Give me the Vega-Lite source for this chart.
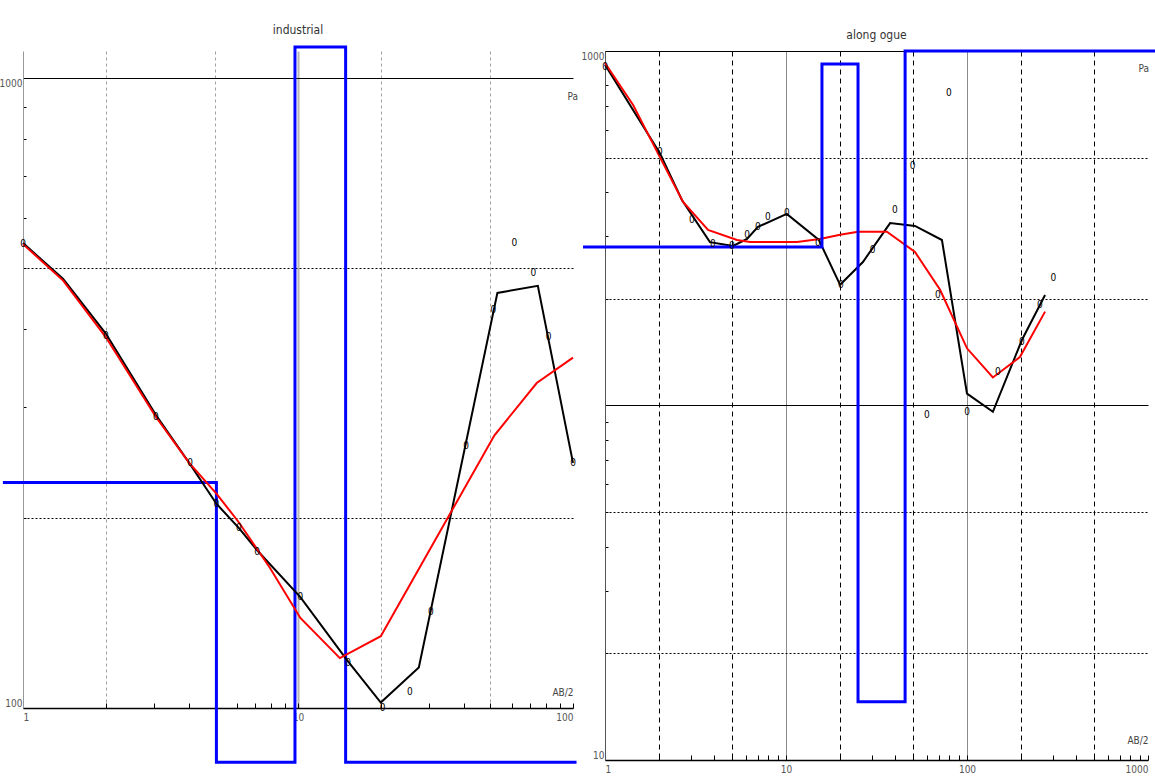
{
  "$schema": "https://vega.github.io/schema/vega-lite/v6.json",
  "background": "white",
  "padding": {"left": -4, "top": 24, "right": 0, "bottom": 0},
  "spacing": -6,
  "config": {
    "view": {"stroke": null},
    "font": "Liberation Sans Narrow, DejaVu Sans Condensed, Liberation Sans, sans-serif",
    "title": {"font": "Liberation Sans Narrow, DejaVu Sans Condensed, Liberation Sans, sans-serif", "fontSize": 12, "fontWeight": "normal", "color": "#333"}
  },
  "datasets": {
    "L_model": [{"ab":0.845,"rho":228},{"ab":5.05,"rho":82},{"ab":9.75,"rho":1120},{"ab":14.9,"rho":82},{"ab":103,"rho":82}],
    "L_fit": [{"ab":1,"rho":545},{"ab":1.4,"rho":477},{"ab":2,"rho":388},{"ab":3.04,"rho":290},{"ab":4.02,"rho":245},{"ab":5.05,"rho":219},{"ab":6.1,"rho":197},{"ab":7.9,"rho":167},{"ab":10.2,"rho":139},{"ab":14.2,"rho":120},{"ab":20,"rho":130},{"ab":51.8,"rho":271},{"ab":73.8,"rho":328},{"ab":100,"rho":360}],
    "L_obs": [{"ab":1,"rho":547},{"ab":1.4,"rho":480},{"ab":2,"rho":393},{"ab":3.04,"rho":292},{"ab":4.02,"rho":245},{"ab":5.05,"rho":211},{"ab":6.1,"rho":193},{"ab":7.1,"rho":178},{"ab":10.2,"rho":150},{"ab":15.1,"rho":119},{"ab":20,"rho":102},{"ab":27.5,"rho":116},{"ab":53.1,"rho":456},{"ab":74.5,"rho":468},{"ab":100,"rho":245}],
    "L_pts": [{"ab":1,"rho":545},{"ab":2,"rho":389},{"ab":3.04,"rho":290},{"ab":4.05,"rho":245},{"ab":5.05,"rho":211},{"ab":6.1,"rho":193},{"ab":7.1,"rho":177},{"ab":10.2,"rho":150},{"ab":15.2,"rho":118},{"ab":20.3,"rho":100},{"ab":25.5,"rho":106},{"ab":30.4,"rho":142},{"ab":40.9,"rho":261},{"ab":51.3,"rho":428},{"ab":61.2,"rho":547},{"ab":71.7,"rho":490},{"ab":81.5,"rho":388},{"ab":100,"rho":245}],
    "R_model": [{"ab":0.756,"rho":280},{"ab":15.8,"rho":919},{"ab":25,"rho":14.6},{"ab":45.5,"rho":1000},{"ab":1096,"rho":1000}],
    "R_fit": [{"ab":1,"rho":925},{"ab":1.43,"rho":704},{"ab":2.01,"rho":502},{"ab":2.7,"rho":375},{"ab":3.71,"rho":313},{"ab":5.36,"rho":293},{"ab":6.33,"rho":289},{"ab":11.5,"rho":289},{"ab":15.4,"rho":295},{"ab":19.9,"rho":303},{"ab":25,"rho":309},{"ab":36.1,"rho":309},{"ab":51.6,"rho":271},{"ab":71,"rho":212},{"ab":100,"rho":145},{"ab":139,"rho":120},{"ab":196,"rho":137},{"ab":270,"rho":184}],
    "R_obs": [{"ab":1,"rho":914},{"ab":2.01,"rho":515},{"ab":2.66,"rho":380},{"ab":3.8,"rho":289},{"ab":5.1,"rho":282},{"ab":6.09,"rho":295},{"ab":7,"rho":319},{"ab":10.1,"rho":347},{"ab":15.2,"rho":293},{"ab":19.9,"rho":219},{"ab":26.6,"rho":254},{"ab":37.6,"rho":327},{"ab":51.6,"rho":321},{"ab":72.7,"rho":293},{"ab":100,"rho":108},{"ab":139,"rho":96},{"ab":201,"rho":153},{"ab":270,"rho":205}],
    "R_pts": [{"ab":1,"rho":902},{"ab":2.01,"rho":518},{"ab":3.02,"rho":333},{"ab":3.95,"rho":286},{"ab":5.03,"rho":282},{"ab":6.09,"rho":303},{"ab":7,"rho":319},{"ab":7.95,"rho":341},{"ab":10.1,"rho":349},{"ab":15,"rho":287},{"ab":20.1,"rho":219},{"ab":30.1,"rho":275},{"ab":40,"rho":356},{"ab":50.1,"rho":474},{"ab":79.5,"rho":762},{"ab":69,"rho":205},{"ab":60,"rho":94},{"ab":100,"rho":96},{"ab":148,"rho":124},{"ab":201,"rho":151},{"ab":253,"rho":192},{"ab":300,"rho":229}]
  },
  "hconcat": [
    {
      "width": 550,
      "height": 657,
      "title": {"text": "industrial", "offset": 4},
      "layer": [
        {
          "data": {"name": "L_model"},
          "mark": {"type": "line", "interpolate": "step-after", "color": "#0000ff", "strokeWidth": 3, "clip": false},
          "encoding": {
            "x": {"field": "ab", "type": "quantitative", "scale": {"type": "log", "domain": [1, 100], "nice": false},
              "axis": {
                "values": [1,2,3,4,5,6,7,8,9,10,20,30,40,50,60,70,80,90,100],
                "labelExpr": "datum.value == 1 || datum.value == 10 || datum.value == 100 ? format(datum.value, 'd') : ''",
                "labelOverlap": false, "labelFontSize": 10, "labelColor": "#555", "labelPadding": 9,
                "tickSize": -5, "tickColor": "#000",
                "domainColor": "#000", "domainWidth": 1.5,
                "grid": true,
                "gridColor": {"condition": {"test": "datum.value == 10", "value": "#b4b4b4"}, "value": "#a0a0a0"},
                "gridDash": {"condition": {"test": "datum.value == 10", "value": []}, "value": [3, 3]},
                "gridWidth": {"condition": {"test": "datum.value == 10", "value": 2}, "value": 1},
                "gridOpacity": {"condition": {"test": "indexof([2,5,10,20,50], datum.value) >= 0", "value": 1}, "value": 0},
                "title": "AB/2", "titleX": 550, "titleY": -16, "titleAlign": "right", "titleBaseline": "middle",
                "titleFontSize": 10, "titleFontWeight": "normal", "titleColor": "#444"
              }
            },
            "y": {"field": "rho", "type": "quantitative", "scale": {"type": "log", "domain": [100, 1104], "nice": false},
              "axis": {
                "values": [100,200,300,400,500,600,700,800,900,1000],
                "labelExpr": "datum.value == 100 || datum.value == 1000 ? format(datum.value, 'd') : ''",
                "labelFlush": false, "labelOverlap": false, "labelFontSize": 10, "labelColor": "#555", "labelPadding": 4,
                "labelBaseline": {"condition": {"test": "datum.value == 1000", "value": "top"}, "value": "bottom"},
                "tickSize": -3, "tickColor": "#000",
                "domainColor": "#999",
                "grid": true, "gridColor": "#000",
                "gridDash": {"condition": {"test": "datum.value == 1000", "value": []}, "value": [2, 2]},
                "gridOpacity": {"condition": {"test": "datum.value == 200 || datum.value == 500 || datum.value == 1000", "value": 1}, "value": 0},
                "title": "Pa", "titleAngle": 0, "titleX": 544, "titleY": 45, "titleAlign": "left", "titleBaseline": "middle",
                "titleFontSize": 10, "titleFontWeight": "normal", "titleColor": "#444"
              }
            }
          }
        },
        {
          "data": {"name": "L_obs"},
          "mark": {"type": "line", "color": "#000", "strokeWidth": 2},
          "encoding": {
            "x": {"field": "ab", "type": "quantitative", "scale": {"type": "log", "domain": [1, 100], "nice": false}},
            "y": {"field": "rho", "type": "quantitative", "scale": {"type": "log", "domain": [100, 1104], "nice": false}}
          }
        },
        {
          "data": {"name": "L_fit"},
          "mark": {"type": "line", "color": "#ff0000", "strokeWidth": 2},
          "encoding": {
            "x": {"field": "ab", "type": "quantitative", "scale": {"type": "log", "domain": [1, 100], "nice": false}},
            "y": {"field": "rho", "type": "quantitative", "scale": {"type": "log", "domain": [100, 1104], "nice": false}}
          }
        },
        {
          "data": {"name": "L_pts"},
          "mark": {"type": "text", "text": "0", "fontSize": 10, "color": "#000", "baseline": "middle", "align": "center"},
          "encoding": {
            "x": {"field": "ab", "type": "quantitative", "scale": {"type": "log", "domain": [1, 100], "nice": false}},
            "y": {"field": "rho", "type": "quantitative", "scale": {"type": "log", "domain": [100, 1104], "nice": false}}
          }
        }
      ]
    },
    {
      "width": 543,
      "height": 709,
      "title": {"text": "along ogue", "offset": 3},
      "layer": [
        {
          "data": {"name": "R_obs"},
          "mark": {"type": "line", "color": "#000", "strokeWidth": 2},
          "encoding": {
            "x": {"field": "ab", "type": "quantitative", "scale": {"type": "log", "domain": [1, 1000], "nice": false},
              "axis": {
                "values": [1,2,3,4,5,6,7,8,9,10,20,30,40,50,60,70,80,90,100,200,300,400,500,600,700,800,900,1000],
                "labelExpr": "datum.value == 1 || datum.value == 10 || datum.value == 100 || datum.value == 1000 ? format(datum.value, 'd') : ''",
                "labelFlush": true, "labelOverlap": false, "labelFontSize": 10, "labelColor": "#555", "labelPadding": 9,
                "tickSize": -5, "tickColor": "#000",
                "domainColor": "#000", "domainWidth": 1.5,
                "grid": true,
                "gridColor": {"condition": {"test": "datum.value == 10 || datum.value == 100", "value": "#8c8c8c"}, "value": "#000"},
                "gridDash": {"condition": {"test": "datum.value == 10 || datum.value == 100", "value": []}, "value": [5, 4]},
                "gridOpacity": {"condition": {"test": "indexof([2,5,10,20,50,100,200,500], datum.value) >= 0", "value": 1}, "value": 0},
                "title": "AB/2", "titleX": 543, "titleY": -20, "titleAlign": "right", "titleBaseline": "middle",
                "titleFontSize": 10, "titleFontWeight": "normal", "titleColor": "#444"
              }
            },
            "y": {"field": "rho", "type": "quantitative", "scale": {"type": "log", "domain": [10, 1000], "nice": false},
              "axis": {
                "values": [10,20,30,40,50,60,70,80,90,100,200,300,400,500,600,700,800,900,1000],
                "labelExpr": "datum.value == 10 || datum.value == 1000 ? format(datum.value, 'd') : ''",
                "labelFlush": true, "labelOverlap": false, "labelFontSize": 10, "labelColor": "#555", "labelPadding": 4,
                "tickSize": -3, "tickColor": "#000",
                "domainColor": "#555",
                "grid": true, "gridColor": "#000",
                "gridDash": {"condition": {"test": "datum.value == 100 || datum.value == 1000", "value": []}, "value": [2, 2]},
                "gridOpacity": {"condition": {"test": "indexof([20,50,100,200,500,1000], datum.value) >= 0", "value": 1}, "value": 0},
                "title": "Pa", "titleAngle": 0, "titleX": 533, "titleY": 17, "titleAlign": "left", "titleBaseline": "middle",
                "titleFontSize": 10, "titleFontWeight": "normal", "titleColor": "#444"
              }
            }
          }
        },
        {
          "data": {"name": "R_fit"},
          "mark": {"type": "line", "color": "#ff0000", "strokeWidth": 2},
          "encoding": {
            "x": {"field": "ab", "type": "quantitative", "scale": {"type": "log", "domain": [1, 1000], "nice": false}},
            "y": {"field": "rho", "type": "quantitative", "scale": {"type": "log", "domain": [10, 1000], "nice": false}}
          }
        },
        {
          "data": {"name": "R_model"},
          "mark": {"type": "line", "interpolate": "step-after", "color": "#0000ff", "strokeWidth": 3, "clip": false},
          "encoding": {
            "x": {"field": "ab", "type": "quantitative", "scale": {"type": "log", "domain": [1, 1000], "nice": false}},
            "y": {"field": "rho", "type": "quantitative", "scale": {"type": "log", "domain": [10, 1000], "nice": false}}
          }
        },
        {
          "data": {"name": "R_pts"},
          "mark": {"type": "text", "text": "0", "fontSize": 10, "color": "#000", "baseline": "middle", "align": "center"},
          "encoding": {
            "x": {"field": "ab", "type": "quantitative", "scale": {"type": "log", "domain": [1, 1000], "nice": false}},
            "y": {"field": "rho", "type": "quantitative", "scale": {"type": "log", "domain": [10, 1000], "nice": false}}
          }
        }
      ]
    }
  ]
}
